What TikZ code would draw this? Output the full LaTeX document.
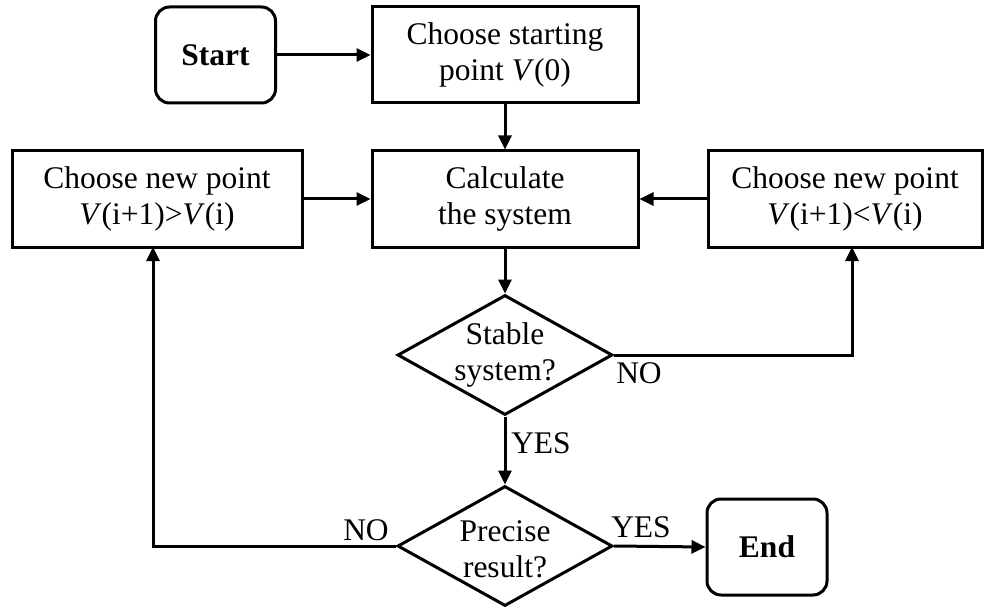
\documentclass[tikz,border=0pt]{standalone}
\usepackage{fontspec}
\setmainfont{Liberation Serif}
\usetikzlibrary{arrows.meta,shapes.geometric}
\begin{document}
\begin{tikzpicture}[x=1pt,y=-1pt,
  every node/.style={font=\fontsize{31.5}{36}\selectfont},
  box/.style={draw,line width=3pt,rectangle,minimum height=96pt,align=center,inner sep=0pt},
  term/.style={draw,line width=3pt,rectangle,rounded corners=14pt,minimum width=120pt,minimum height=96pt,inner sep=0pt,font=\fontsize{31.5}{36}\selectfont\bfseries},
  dia/.style={draw,line width=3pt,diamond,minimum width=215pt,minimum height=120pt,inner sep=0pt},
  conn/.style={line width=3pt,-{Triangle[length=14pt,width=13pt]}},
  lbl/.style={inner sep=0pt}]
\useasboundingbox (0,0) rectangle (986,607);
\node[term] (start) at (215.5,55) {Start};
\node[box,minimum width=266pt] (sp) at (505,55) {Choose starting\\point \textit{V}(0)};
\node[box,minimum width=266pt] (calc) at (505,199) {Calculate\\the system};
\node[box,minimum width=290pt] (left) at (157,199) {Choose new point\\\textit{V}(i+1)>\textit{V}(i)};
\node[box,minimum width=274pt] (right) at (845,199) {Choose new point\\\textit{V}(i+1)<\textit{V}(i)};
\node[dia] (stable) at (505,355) {};
\node[align=center,inner sep=0pt] (stablet) at (505,355) {Stable\\system?};
\node[dia] (precise) at (505,546) {};
\node[align=center,inner sep=0pt] (preciset) at (505,549) {Precise\\result?};
\node[term] (end) at (767,547) {End};
\coordinate (rin) at (852,247);
\coordinate (lin) at (153,247);
\draw[conn] (start.east) -- (sp.west);
\draw[conn] (sp.south) -- (calc.north);
\draw[conn] (left.east) -- (left.east -| calc.west);
\draw[conn] (right.west) -- (right.west -| calc.east);
\draw[conn] (calc.south) -- (stable.north);
\draw[conn] (stable.east) -- (rin |- stable.east) -- (rin);
\draw[conn] (stable.south) -- (precise.north);
\draw[conn] (precise.west) -- (lin |- precise.west) -- (lin);
\draw[conn] (precise.east) -- (end.west);
\node[lbl] (no1) at (639,373) {NO};
\node[lbl] (yes1) at (541,443) {YES};
\node[lbl] (no2) at (366,530) {NO};
\node[lbl] (yes2) at (641,527) {YES};
\end{tikzpicture}
\end{document}
